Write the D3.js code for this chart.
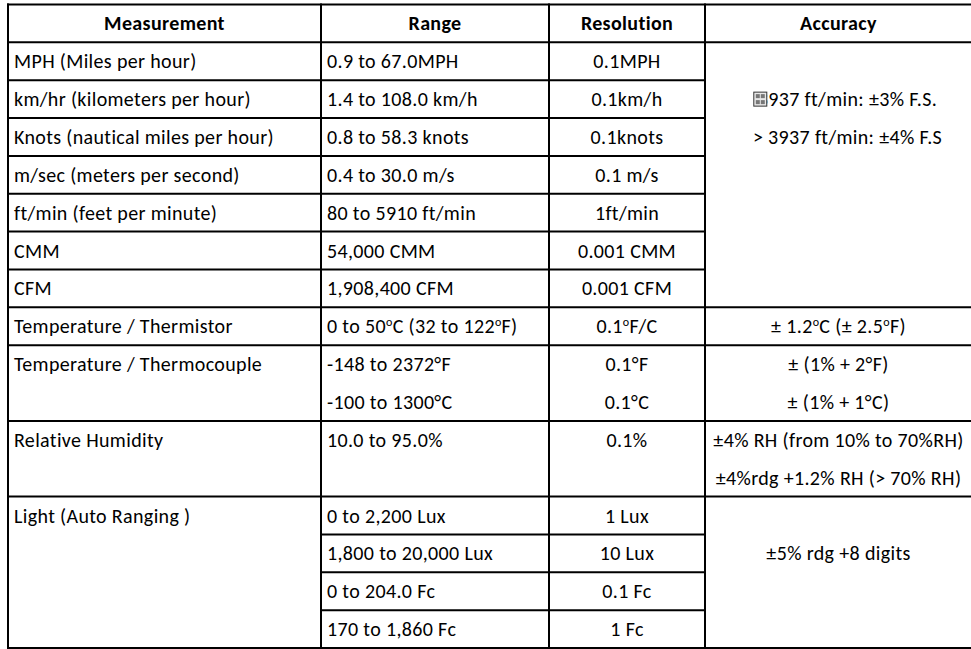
<!DOCTYPE html>
<html lang="en">
  <head>
    <meta charset="UTF-8" />
    <title>Anemometer specifications</title>
    <style>
      body { margin: 0; background: #fff; }
      text { font-family: Carlito, Calibri, Lato, sans-serif; font-size: 20px; letter-spacing: 0.35px; fill: #000; }
      .head { font-weight: bold; }
    </style>
  </head>
  <body>
    <script src="https://cdn.jsdelivr.net/npm/d3@7"></script>
    <script>
      // table content, one entry per sub-row where it applies ("^o" = raised degree sign)
      const headers = ['Measurement', 'Range', 'Resolution', 'Accuracy'];
      const measurements = [
        'MPH (Miles per hour)',
        'km/hr (kilometers per hour)',
        'Knots (nautical miles per hour)',
        'm/sec (meters per second)',
        'ft/min (feet per minute)',
        'CMM',
        'CFM',
        'Temperature / Thermistor',
        'Temperature / Thermocouple',
        'Relative Humidity',
        'Light (Auto Ranging )'
      ];
      const measurementSpans = [1, 1, 1, 1, 1, 1, 1, 1, 2, 2, 4];
      const ranges = [
        '0.9 to 67.0MPH',
        '1.4 to 108.0 km/h',
        '0.8 to 58.3 knots',
        '0.4 to 30.0 m/s',
        '80 to 5910 ft/min',
        '54,000 CMM',
        '1,908,400 CFM',
        '0 to 50^oC (32 to 122^oF)',
        '-148 to 2372°F',
        '-100 to 1300°C',
        '10.0 to 95.0%',
        '',
        '0 to 2,200 Lux',
        '1,800 to 20,000 Lux',
        '0 to 204.0 Fc',
        '170 to 1,860 Fc'
      ];
      const resolutions = [
        '0.1MPH', '0.1km/h', '0.1knots', '0.1 m/s', '1ft/min', '0.001 CMM', '0.001 CFM',
        '0.1^oF/C', '0.1°F', '0.1°C', '0.1%', '', '1 Lux', '10 Lux', '0.1 Fc', '1 Fc'
      ];
      const rangeSpans = [1, 1, 1, 1, 1, 1, 1, 1, 2, 2, 1, 1, 1, 1];
      const accuracies = [
        '',
        '3937 ft/min: ±3% F.S.',
        '> 3937 ft/min: ±4% F.S',
        '', '', '', '',
        '± 1.2^oC (± 2.5^oF)',
        '± (1% + 2°F)',
        '± (1% + 1°C)',
        '±4% RH (from 10% to 70%RH)',
        '±4%rdg +1.2% RH (> 70% RH)',
        '',
        '±5% rdg +8 digits',
        '',
        ''
      ];
      const accuracySpans = [7, 1, 2, 2, 4];

      const width = 971;
      const height = 649;
      const colEdges = [8, 321, 549, 705, 972];

      const svg = d3.select('body').append('svg')
        .attr('width', width).attr('height', height);

      // rows: 0 = header, 1..16 = sub-rows
      const y = d3.scaleLinear().domain([0, ranges.length + 1]).range([4.5, 648]);
      const x = d3.scaleLinear().domain(d3.range(colEdges.length)).range(colEdges);
      const mid = (c) => (x(c) + x(c + 1)) / 2;
      const base = (r) => (y(r) + y(r + 1)) / 2 + 7;

      // writes a string into a text element, raising "^o" as a small superscript
      const fill = (sel, s) => {
        const parts = s.split('^o');
        parts.forEach((p, i) => {
          if (i > 0) {
            sel.append('tspan').attr('dy', -7).style('font-size', '12px').text('o');
            sel.append('tspan').attr('dy', 7).text(p);
          } else {
            sel.append('tspan').text(p);
          }
        });
      };

      const lines = svg.append('g').attr('stroke', '#000').attr('stroke-width', 2);
      const hLine = (r, c0, c1) => lines.append('line')
        .attr('x1', x(c0) - 1).attr('x2', x(c1) + 1)
        .attr('y1', y(r)).attr('y2', y(r));

      hLine(0, 0, 4);
      hLine(1, 0, 4);
      hLine(ranges.length + 1, 0, 4);

      const cumul = (spans) => d3.cumsum(spans).slice(0, -1).map((v) => v + 1);
      cumul(measurementSpans).forEach((r) => hLine(r, 0, 1));
      cumul(rangeSpans).forEach((r) => hLine(r, 1, 3));
      cumul(accuracySpans).forEach((r) => hLine(r, 3, 4));

      colEdges.forEach((e, i) => {
        lines.append('line')
          .attr('x1', x(i)).attr('x2', x(i))
          .attr('y1', y(0) - 1).attr('y2', y(ranges.length + 1) + 1);
      });

      // header
      svg.append('g').selectAll('text').data(headers).join('text')
        .attr('class', 'head')
        .attr('x', (d, i) => mid(i))
        .attr('y', base(0))
        .attr('text-anchor', 'middle')
        .text((d) => d);

      // measurement names sit in the first sub-row of their group
      const starts = [0, ...d3.cumsum(measurementSpans)].slice(0, -1).map((v) => v + 1);
      svg.append('g').selectAll('text').data(measurements).join('text')
        .attr('x', x(0) + 6)
        .attr('y', (d, i) => base(starts[i]))
        .text((d) => d);

      svg.append('g').selectAll('text').data(ranges).join('text')
        .attr('x', x(1) + 6)
        .attr('y', (d, i) => base(i + 1))
        .each(function (d) { fill(d3.select(this), d); });

      svg.append('g').selectAll('text').data(resolutions).join('text')
        .attr('x', mid(2))
        .attr('y', (d, i) => base(i + 1))
        .attr('text-anchor', 'middle')
        .each(function (d) { fill(d3.select(this), d); });

      // the air-speed accuracy lines sit a little right of centre in the original
      const acc = svg.append('g').selectAll('text').data(accuracies).join('text')
        .attr('x', (d, i) => mid(3) + (i < 7 ? 9 : 0))
        .attr('y', (d, i) => base(i + 1))
        .attr('text-anchor', 'middle')
        .each(function (d) { fill(d3.select(this), d); });

      // the missing-glyph box laid over the first 3 of 3937
      const first = acc.filter((d, i) => i === 1).node().getBBox();
      const box = svg.append('g').attr('transform', `translate(${first.x - 4},${base(2) - 14})`);
      box.append('rect').attr('width', 13).attr('height', 14)
        .attr('fill', '#e8e8e8').attr('stroke', '#333').attr('stroke-width', 1);
      [[2, 2], [7, 2], [2, 8], [7, 8]].forEach(([a, b]) => {
        box.append('rect').attr('x', a).attr('y', b).attr('width', 4).attr('height', 4)
          .attr('fill', '#777');
      });
    </script>
  </body>
</html>
